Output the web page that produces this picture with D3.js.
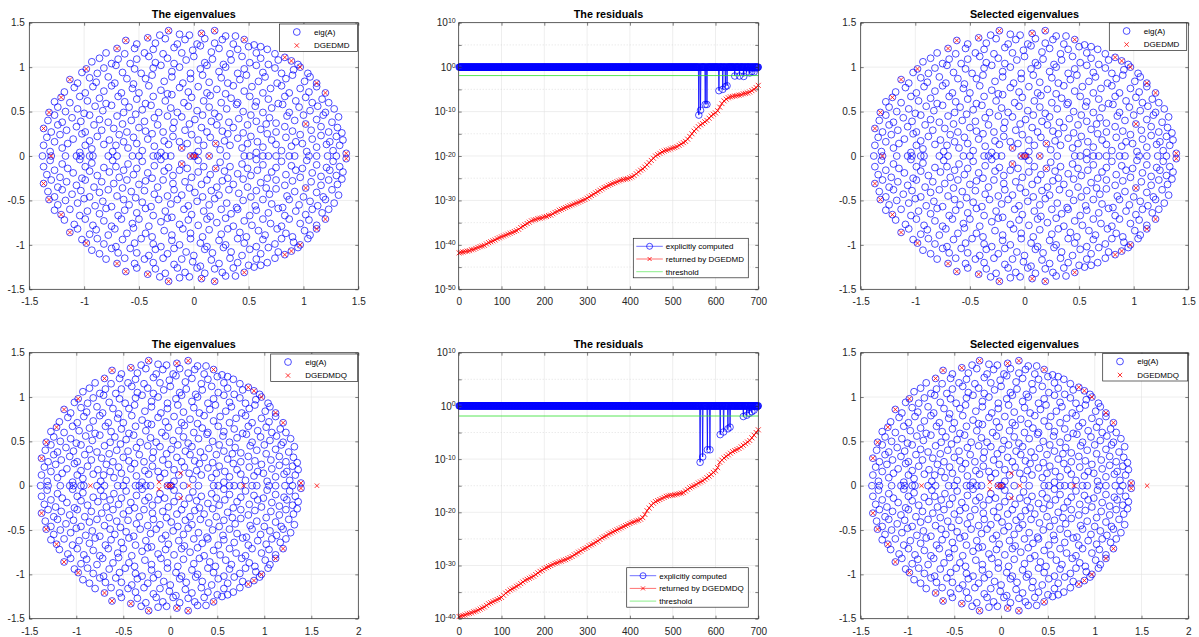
<!DOCTYPE html>
<html>
<head>
<meta charset="utf-8">
<script src="https://cdn.jsdelivr.net/npm/d3@7"></script>
<style>
  body { margin: 0; background: #fff; }
</style>
</head>
<body>
<svg id="fig" width="1199" height="637"></svg>
<script>
// ---- data ----
// real eigenvalues of A (on the real axis)
const eigReal = [-1.38, -1.30, -1.17, -1.07, -1.03, -0.95, -0.92, -0.78, -0.70, -0.56, -0.50, -0.37, -0.33,
  -0.26, -0.21, -0.03, 0.00, 0.01, 0.14, 0.30, 0.46, 0.51, 0.63, 0.68, 0.75, 0.87, 0.92, 1.05, 1.12, 1.22, 1.30];
// complex eigenvalues of A, upper half plane (re, im); the lower half are their conjugates
const eigUpper = [
  [-1.37,0.12],[-1.31,0.05],[-1.20,0.09],[-1.15,0.14],[-1.04,0.04],[-0.99,0.12],[-0.93,0.08],[-0.82,0.13],[-0.74,0.05],[-0.71,0.12],[-0.60,0.09],[-0.52,0.14],[-0.47,0.06],[-0.36,0.11],[-0.30,0.04],[-0.23,0.13],[-0.11,0.09],[-0.06,0.14],[0.04,0.05],[0.09,0.12],[0.20,0.14],[0.24,0.07],[0.33,0.12],[0.44,0.09],[0.49,0.14],[0.57,0.04],[0.63,0.10],[0.75,0.13],[0.80,0.06],[0.89,0.11],[0.99,0.14],[1.03,0.05],[1.12,0.10],[1.21,0.13],[1.27,0.06],[1.33,0.12],[1.39,0.03],
  [-1.34,0.21],[-1.27,0.16],[-1.22,0.24],[-1.10,0.19],[-1.02,0.25],[-0.95,0.17],[-0.88,0.22],[-0.77,0.18],[-0.68,0.24],[-0.64,0.16],[-0.55,0.21],[-0.42,0.19],[-0.38,0.25],[-0.27,0.17],[-0.19,0.22],[-0.13,0.16],[-0.02,0.24],[0.04,0.18],[0.15,0.21],[0.28,0.17],[0.31,0.25],[0.40,0.20],[0.52,0.22],[0.58,0.16],[0.67,0.25],[0.71,0.18],[0.84,0.21],[0.93,0.16],[0.97,0.24],[1.08,0.19],[1.16,0.23],[1.24,0.16],[1.30,0.22],[1.36,0.18],
  [-1.37,0.31],[-1.30,0.27],[-1.24,0.35],[-1.16,0.29],[-1.07,0.33],[-0.99,0.27],[-0.91,0.35],[-0.84,0.29],[-0.73,0.31],[-0.65,0.36],[-0.61,0.27],[-0.50,0.32],[-0.44,0.28],[-0.33,0.35],[-0.28,0.27],[-0.19,0.31],[-0.08,0.29],[-0.04,0.36],[0.07,0.32],[0.12,0.27],[0.21,0.35],[0.26,0.28],[0.36,0.32],[0.45,0.26],[0.49,0.35],[0.61,0.30],[0.66,0.36],[0.75,0.27],[0.83,0.33],[0.90,0.28],[1.02,0.36],[1.07,0.29],[1.16,0.33],[1.23,0.27],[1.31,0.32],[1.35,0.26],
  [-1.33,0.40],[-1.27,0.46],[-1.20,0.38],[-1.11,0.43],[-1.03,0.39],[-0.95,0.46],[-0.86,0.41],[-0.78,0.38],[-0.70,0.45],[-0.57,0.40],[-0.53,0.47],[-0.45,0.39],[-0.36,0.43],[-0.24,0.45],[-0.18,0.38],[-0.11,0.44],[0.01,0.41],[0.08,0.46],[0.16,0.39],[0.23,0.44],[0.32,0.38],[0.41,0.42],[0.52,0.46],[0.57,0.39],[0.69,0.43],[0.75,0.37],[0.85,0.45],[0.92,0.40],[1.00,0.46],[1.12,0.41],[1.18,0.46],[1.26,0.38],[1.32,0.44],
  [-1.32,0.49],[-1.24,0.55],[-1.17,0.50],[-1.06,0.53],[-1.00,0.48],[-0.90,0.56],[-0.83,0.51],[-0.75,0.57],[-0.64,0.49],[-0.59,0.55],[-0.47,0.52],[-0.39,0.57],[-0.32,0.49],[-0.21,0.54],[-0.15,0.49],[-0.05,0.56],[0.03,0.51],[0.14,0.55],[0.19,0.48],[0.30,0.53],[0.39,0.58],[0.45,0.50],[0.56,0.56],[0.63,0.49],[0.71,0.54],[0.81,0.58],[0.87,0.49],[0.96,0.55],[1.06,0.51],[1.13,0.56],[1.20,0.49],[1.28,0.53],
  [-1.27,0.61],[-1.21,0.66],[-1.13,0.60],[-1.04,0.67],[-0.97,0.62],[-0.86,0.65],[-0.80,0.59],[-0.69,0.67],[-0.63,0.61],[-0.52,0.64],[-0.44,0.59],[-0.37,0.67],[-0.26,0.62],[-0.20,0.69],[-0.09,0.60],[-0.02,0.66],[0.09,0.62],[0.15,0.68],[0.25,0.60],[0.34,0.65],[0.40,0.60],[0.51,0.67],[0.57,0.61],[0.68,0.64],[0.77,0.59],[0.83,0.67],[0.93,0.62],[1.02,0.66],[1.08,0.60],[1.17,0.64],[1.23,0.60],
  [-1.18,0.72],[-1.09,0.77],[-0.99,0.71],[-0.92,0.78],[-0.82,0.73],[-0.75,0.79],[-0.66,0.71],[-0.56,0.76],[-0.50,0.71],[-0.41,0.79],[-0.30,0.74],[-0.24,0.70],[-0.13,0.77],[-0.05,0.72],[0.04,0.78],[0.12,0.71],[0.21,0.75],[0.29,0.70],[0.36,0.79],[0.46,0.73],[0.53,0.78],[0.63,0.71],[0.70,0.76],[0.80,0.79],[0.87,0.71],[0.97,0.76],[1.05,0.72],[1.12,0.78],[1.20,0.71],
  [-1.13,0.86],[-1.06,0.82],[-0.95,0.88],[-0.89,0.83],[-0.78,0.89],[-0.72,0.82],[-0.61,0.87],[-0.55,0.81],[-0.44,0.87],[-0.38,0.91],[-0.27,0.84],[-0.20,0.89],[-0.10,0.82],[-0.03,0.87],[0.08,0.91],[0.14,0.83],[0.25,0.88],[0.31,0.82],[0.42,0.86],[0.48,0.91],[0.59,0.84],[0.65,0.89],[0.76,0.82],[0.84,0.87],[0.90,0.91],[1.01,0.84],[1.06,0.89],[1.12,0.82],
  [-1.02,0.94],[-0.98,0.98],[-0.88,0.93],[-0.82,0.99],[-0.71,1.02],[-0.65,0.94],[-0.54,0.98],[-0.48,0.93],[-0.37,0.99],[-0.30,1.02],[-0.20,0.95],[-0.13,1.00],[-0.03,0.93],[0.06,0.98],[0.12,1.02],[0.23,0.95],[0.29,1.00],[0.40,0.93],[0.46,0.98],[0.57,1.02],[0.63,0.94],[0.74,0.99],[0.80,0.93],[0.91,0.97],[0.97,1.00],[1.04,0.93],
  [-0.93,1.06],[-0.86,1.10],[-0.75,1.04],[-0.69,1.09],[-0.58,1.04],[-0.52,1.09],[-0.41,1.12],[-0.35,1.05],[-0.24,1.10],[-0.18,1.04],[-0.07,1.08],[0.00,1.12],[0.10,1.05],[0.17,1.09],[0.27,1.03],[0.34,1.08],[0.44,1.12],[0.51,1.05],[0.61,1.10],[0.68,1.03],[0.77,1.08],[0.83,1.11],[0.89,1.07],[0.95,1.03],
  [-0.80,1.16],[-0.70,1.21],[-0.63,1.15],[-0.54,1.21],[-0.45,1.16],[-0.37,1.20],[-0.28,1.15],[-0.18,1.22],[-0.11,1.16],[-0.01,1.19],[0.06,1.24],[0.16,1.17],[0.23,1.21],[0.33,1.15],[0.40,1.20],[0.50,1.23],[0.57,1.16],[0.67,1.20],[0.74,1.15],
  [-0.62,1.30],[-0.52,1.26],[-0.42,1.33],[-0.35,1.27],[-0.26,1.32],[-0.15,1.26],[-0.08,1.31],[0.03,1.26],[0.10,1.32],[0.19,1.27],[0.26,1.31],[0.36,1.26],[0.46,1.31],[0.55,1.25],[0.61,1.23],
  [-0.31,1.36],[-0.23,1.41],[-0.13,1.37],[-0.04,1.36],[0.07,1.38],[0.19,1.41],[0.29,1.35],[0.38,1.35]
];

// Ritz values returned by DGEDMD / DGEDMDQ (real ones, and upper half plane)
const dgedmdReal = [-1.30, -0.03, 0.00, 0.02, 0.14];
const dgedmdUpper = [[-0.23,1.41],[0.07,1.38],[0.19,1.41],[-0.42,1.33],[-0.62,1.30],[-0.70,1.21],[0.46,1.31],
  [-0.98,0.98],[-1.13,0.86],[-1.21,0.66],[-1.32,0.49],[-1.37,0.31],[0.83,1.11],[0.89,1.07],[0.97,1.00],
  [1.12,0.82],[1.20,0.71],[1.39,0.03],[1.02,0.36],[-0.11,0.09],[0.20,0.14]];
const dgedmdqReal = [-0.85, -0.04, -0.01, 0.01, 0.20, 0.78, 1.56];
const dgedmdqUpper = [[-0.23,1.41],[0.07,1.38],[0.19,1.41],[-0.42,1.33],[-0.62,1.30],[-0.70,1.21],[0.46,1.31],
  [-0.98,0.98],[-1.13,0.86],[-1.21,0.66],[-1.32,0.49],[-1.37,0.31],[0.83,1.11],[0.89,1.07],[0.97,1.00],
  [1.12,0.82],[1.20,0.71],[1.39,0.03],[-0.12,0.04],[0.11,0.14]];

// explicitly computed residuals (log10), indices 1..700
const explicitIndex = d3.range(1, 701);
const explicitTop = [
  0,0,0,0,0,0,0,0,0,0, 0,0,0,0,0,0,0,0,0,0, 0,0,0,0,0,0,0,0,0,0, 0,0,0,0,0,0,0,0,0,0, 0,0,0,0,0,0,0,0,0,0,
  0,0,0,0,0,0,0,0,0,0, 0,0,0,0,0,0,0,0,0,0, 0,0,0,0,0,0,0,0,0,0, 0,0,0,0,0,0,0,0,0,0, 0,0,0,0,0,0,0,0,0,0,
  0,0,0,0,0,0,0,0,0,0, 0,0,0,0,0,0,0,0,0,0, 0,0,0,0,0,0,0,0,0,0, 0,0,0,0,0,0,0,0,0,0, 0,0,0,0,0,0,0,0,0,0,
  0,0,0,0,0,0,0,0,0,0, 0,0,0,0,0,0,0,0,0,0, 0,0,0,0,0,0,0,0,0,0, 0,0,0,0,0,0,0,0,0,0, 0,0,0,0,0,0,0,0,0,0,
  0,0,0,0,0,0,0,0,0,0, 0,0,0,0,0,0,0,0,0,0, 0,0,0,0,0,0,0,0,0,0, 0,0,0,0,0,0,0,0,0,0, 0,0,0,0,0,0,0,0,0,0,
  0,0,0,0,0,0,0,0,0,0, 0,0,0,0,0,0,0,0,0,0, 0,0,0,0,0,0,0,0,0,0, 0,0,0,0,0,0,0,0,0,0, 0,0,0,0,0,0,0,0,0,0,
  0,0,0,0,0,0,0,0,0,0, 0,0,0,0,0,0,0,0,0,0, 0,0,0,0,0,0,0,0,0,0, 0,0,0,0,0,0,0,0,0,0, 0,0,0,0,0,0,0,0,0,0,
  0,0,0,0,0,0,0,0,0,0, 0,0,0,0,0,0,0,0,0,0, 0,0,0,0,0,0,0,0,0,0, 0,0,0,0,0,0,0,0,0,0, 0,0,0,0,0,0,0,0,0,0,
  0,0,0,0,0,0,0,0,0,0, 0,0,0,0,0,0,0,0,0,0, 0,0,0,0,0,0,0,0,0,0, 0,0,0,0,0,0,0,0,0,0, 0,0,0,0,0,0,0,0,0,0,
  0,0,0,0,0,0,0,0,0,0, 0,0,0,0,0,0,0,0,0,0, 0,0,0,0,0,0,0,0,0,0, 0,0,0,0,0,0,0,0,0,0, 0,0,0,0,0,0,0,0,0,0,
  0,0,0,0,0,0,0,0,0,0, 0,0,0,0,0,0,0,0,0,0, 0,0,0,0,0,0,0,0,0,0, 0,0,0,0,0,0,0,0,0,0, 0,0,0,0,0,0,0,0,0,0,
  0,0,0,0,0,0,0,0,0,0,                 // 551-560
  -10.8,0,0,0,-9.7,0,0,0,0,0,           // 561-570
  0,0,0,0,0,-8.4,0,0,0,-8.4,            // 571-580
  0,0,0,0,0,0,0,0,0,0,                  // 581-590
  0,0,0,0,0,0,0,0,0,0,                  // 591-600
  0,0,0,0,0,0,0,-5.3,0,0,               // 601-610
  0,0,0,0,0,0,-5.0,0,0,0,               // 611-620
  0,0,-4.4,0,0,0,-4.2,0,0,0,            // 621-630
  0,0,0,0,0,0,0,0,0,0,                  // 631-640
  0,0,0,0,-2.0,0,0,0,0,0,               // 641-650
  0,0,0,0,0,-2.0,0,0,0,0,               // 651-660
  0,0,0,0,0,-2.1,0,0,0,0,               // 661-670
  0,-1.2,0,0,0,0,0,0,0,-1.3,            // 671-680
  0,0,0,0,-1.0,0,0,0,0,-1.1,            // 681-690
  0,0,0,0,0,0,-0.2,0,0,0                // 691-700
];
const explicitBottom = [
  0,0,0,0,0,0,0,0,0,0, 0,0,0,0,0,0,0,0,0,0, 0,0,0,0,0,0,0,0,0,0, 0,0,0,0,0,0,0,0,0,0, 0,0,0,0,0,0,0,0,0,0,
  0,0,0,0,0,0,0,0,0,0, 0,0,0,0,0,0,0,0,0,0, 0,0,0,0,0,0,0,0,0,0, 0,0,0,0,0,0,0,0,0,0, 0,0,0,0,0,0,0,0,0,0,
  0,0,0,0,0,0,0,0,0,0, 0,0,0,0,0,0,0,0,0,0, 0,0,0,0,0,0,0,0,0,0, 0,0,0,0,0,0,0,0,0,0, 0,0,0,0,0,0,0,0,0,0,
  0,0,0,0,0,0,0,0,0,0, 0,0,0,0,0,0,0,0,0,0, 0,0,0,0,0,0,0,0,0,0, 0,0,0,0,0,0,0,0,0,0, 0,0,0,0,0,0,0,0,0,0,
  0,0,0,0,0,0,0,0,0,0, 0,0,0,0,0,0,0,0,0,0, 0,0,0,0,0,0,0,0,0,0, 0,0,0,0,0,0,0,0,0,0, 0,0,0,0,0,0,0,0,0,0,
  0,0,0,0,0,0,0,0,0,0, 0,0,0,0,0,0,0,0,0,0, 0,0,0,0,0,0,0,0,0,0, 0,0,0,0,0,0,0,0,0,0, 0,0,0,0,0,0,0,0,0,0,
  0,0,0,0,0,0,0,0,0,0, 0,0,0,0,0,0,0,0,0,0, 0,0,0,0,0,0,0,0,0,0, 0,0,0,0,0,0,0,0,0,0, 0,0,0,0,0,0,0,0,0,0,
  0,0,0,0,0,0,0,0,0,0, 0,0,0,0,0,0,0,0,0,0, 0,0,0,0,0,0,0,0,0,0, 0,0,0,0,0,0,0,0,0,0, 0,0,0,0,0,0,0,0,0,0,
  0,0,0,0,0,0,0,0,0,0, 0,0,0,0,0,0,0,0,0,0, 0,0,0,0,0,0,0,0,0,0, 0,0,0,0,0,0,0,0,0,0, 0,0,0,0,0,0,0,0,0,0,
  0,0,0,0,0,0,0,0,0,0, 0,0,0,0,0,0,0,0,0,0, 0,0,0,0,0,0,0,0,0,0, 0,0,0,0,0,0,0,0,0,0, 0,0,0,0,0,0,0,0,0,0,
  0,0,0,0,0,0,0,0,0,0, 0,0,0,0,0,0,0,0,0,0, 0,0,0,0,0,0,0,0,0,0, 0,0,0,0,0,0,0,0,0,0, 0,0,0,0,0,0,0,0,0,0,
  0,0,0,0,0,0,0,0,0,0,                  // 551-560
  0,0,0,-10.6,0,0,0,0,0,-9.6,           // 561-570
  0,0,0,0,0,0,0,0,0,0,                  // 571-580
  -8.25,0,0,0,0,0,-8.25,0,0,0,          // 581-590
  0,0,0,0,0,0,0,0,0,0,                  // 591-600
  0,0,0,0,0,0,0,0,0,0,                  // 601-610
  -5.4,0,0,0,0,0,0,0,-4.9,0,            // 611-620
  0,0,0,0,0,0,0,0,-4.3,0,               // 621-630
  0,0,0,-4.0,0,0,0,0,0,0,               // 631-640
  0,0,0,0,0,0,0,0,0,0,                  // 641-650
  0,0,0,0,0,0,0,0,0,0,                  // 651-660
  0,0,0,0,-2.0,0,0,0,0,0,               // 661-670
  0,0,-1.75,0,0,0,0,0,-1.4,0,           // 671-680
  0,0,0,0,-1.1,0,0,0,0,-0.8,            // 681-690
  0,0,0,0,0,0,-0.2,0,0,0                // 691-700
];

// residuals returned by the routines (log10), read at indices 1, 5, 10, ..., 700
const returnedIndex = [1].concat(d3.range(5, 701, 5));
const returnedTop = [
  -41.8,-41.7,-41.6,-41.5,-41.4,-41.3,-41.1,-41.0,-40.8,-40.6,
  -40.4,-40.25,-40.1,-39.8,-39.5,-39.3,-39.1,-38.9,-38.6,-38.4,
  -38.2,-38.0,-37.8,-37.6,-37.4,-37.2,-37.0,-36.8,-36.5,-36.1,
  -35.8,-35.5,-35.2,-34.9,-34.6,-34.4,-34.3,-34.1,-34.0,-33.9,
  -33.7,-33.6,-33.4,-33.3,-33.0,-32.7,-32.5,-32.2,-32.0,-31.8,
  -31.6,-31.4,-31.2,-31.0,-30.8,-30.6,-30.4,-30.2,-30.0,-29.8,
  -29.5,-29.2,-28.9,-28.6,-28.3,-28.0,-27.7,-27.4,-27.1,-26.9,
  -26.6,-26.4,-26.2,-26.0,-25.8,-25.6,-25.4,-25.3,-25.2,-25.1,
  -24.9,-24.7,-24.4,-24.0,-23.6,-23.2,-22.9,-22.5,-22.0,-21.5,
  -21.0,-20.5,-20.0,-19.7,-19.4,-19.1,-18.9,-18.7,-18.6,-18.4,
  -18.2,-18.1,-17.9,-17.6,-17.3,-17.0,-16.7,-16.2,-15.6,-15.0,
  -14.4,-13.9,-13.4,-13.0,-12.7,-12.3,-12.0,-11.5,-11.0,-10.6,
  -10.3,-9.8,-9.0,-8.2,-7.6,-7.2,-6.9,-6.7,-6.6,-6.5,
  -6.4,-6.3,-6.2,-6.0,-5.9,-5.8,-5.6,-5.3,-5.0,-4.6,
  -4.1
];
const returnedBottom = [
  -39.6,-39.5,-39.4,-39.3,-39.1,-39.0,-38.9,-38.7,-38.6,-38.4,
  -38.2,-38.0,-37.8,-37.5,-37.2,-37.0,-36.8,-36.6,-36.4,-36.2,
  -36.0,-35.6,-35.2,-34.9,-34.6,-34.4,-34.2,-33.9,-33.7,-33.4,
  -33.1,-32.8,-32.6,-32.4,-32.2,-32.0,-31.7,-31.4,-31.1,-30.9,
  -30.6,-30.4,-30.2,-30.0,-29.8,-29.6,-29.5,-29.3,-29.2,-29.0,
  -28.9,-28.7,-28.5,-28.3,-28.0,-27.8,-27.5,-27.3,-27.0,-26.8,
  -26.6,-26.3,-26.1,-25.9,-25.6,-25.4,-25.1,-24.8,-24.6,-24.4,
  -24.1,-23.9,-23.7,-23.5,-23.3,-23.1,-22.9,-22.7,-22.5,-22.3,
  -22.1,-21.9,-21.8,-21.6,-21.5,-21.3,-21.0,-20.4,-19.7,-19.2,
  -18.7,-18.3,-18.0,-17.8,-17.6,-17.4,-17.2,-17.0,-16.9,-16.8,
  -16.8,-16.7,-16.6,-16.5,-16.4,-16.3,-16.0,-15.7,-15.4,-15.2,
  -15.0,-14.8,-14.5,-14.3,-14.1,-13.8,-13.5,-13.2,-12.9,-12.5,
  -12.2,-11.6,-10.6,-10.2,-9.8,-9.5,-9.2,-8.9,-8.6,-8.4,
  -8.2,-8.0,-7.7,-7.4,-7.1,-6.8,-6.5,-6.0,-5.5,-5.0,
  -4.5
];
const thresholdLog = -1.9;

// ticks
const eigTicks = [-1.5, -1, -0.5, 0, 0.5, 1, 1.5];
const eigTicksWide = [-1.5, -1, -0.5, 0, 0.5, 1, 1.5, 2];
const resTicksX = [0, 100, 200, 300, 400, 500, 600, 700];
const resExpTop = [10, 5, 0, -5, -10, -15, -20, -25, -30, -35, -40, -45, -50];
const resExpBottom = [10, 5, 0, -5, -10, -15, -20, -25, -30, -35, -40];

// ---- drawing ----
const svg = d3.select("#fig");
const AX = "#262626", GRID = "#e3e3e3";
const FONT = "'Liberation Sans', Arial, Helvetica, sans-serif";
const BLUE = "#0000ff", RED = "#ff0000", GREEN = "#2fe02f";

svg.append("rect").attr("width", 1199).attr("height", 637).attr("fill", "#fff");

const xPath = s => `M${-s},${-s}L${s},${s}M${-s},${s}L${s},${-s}`;

function withConjugates(real, upper) {
  // complex eigenvalues of a real matrix come in conjugate pairs
  return real.map(r => [r, 0]).concat(upper, upper.map(([re, im]) => [re, -im]));
}

function styleAxis(sel) {
  sel.select(".domain").remove();
  sel.selectAll(".tick line").attr("stroke", AX).attr("stroke-width", 0.6);
  sel.selectAll(".tick text").attr("fill", AX).attr("font-size", 10).attr("font-family", FONT);
}

function frame(g, box, x, y, xTicks, yTicks, yFormat, yPad) {
  g.append("g").attr("transform", `translate(0,${box.y1})`)
    .call(d3.axisBottom(x).tickValues(xTicks).tickFormat(d => String(d))
      .tickSizeInner(-3).tickSizeOuter(0).tickPadding(9)).call(styleAxis);
  g.append("g").attr("transform", `translate(0,${box.y0})`)
    .call(d3.axisTop(x).tickValues(xTicks).tickFormat(() => "")
      .tickSizeInner(-3).tickSizeOuter(0)).call(styleAxis);
  const left = g.append("g").attr("transform", `translate(${box.x0},0)`)
    .call(d3.axisLeft(y).tickValues(yTicks).tickFormat(yFormat)
      .tickSizeInner(-3).tickSizeOuter(0).tickPadding(yPad)).call(styleAxis);
  g.append("g").attr("transform", `translate(${box.x1},0)`)
    .call(d3.axisRight(y).tickValues(yTicks).tickFormat(() => "")
      .tickSizeInner(-3).tickSizeOuter(0)).call(styleAxis);
  g.append("rect").attr("x", box.x0).attr("y", box.y0)
    .attr("width", box.x1 - box.x0).attr("height", box.y1 - box.y0)
    .attr("fill", "none").attr("stroke", AX).attr("stroke-width", 0.7);
  return left;
}

function title(g, box, text) {
  g.append("text").attr("x", (box.x0 + box.x1) / 2).attr("y", box.y0 - 4.5)
    .attr("text-anchor", "middle").attr("font-family", FONT).attr("font-weight", "bold")
    .attr("font-size", 10.8).attr("fill", "#000").text(text);
}

function eigPanel(box, xTicks, selReal, selUpper, selName, titleText, leg) {
  const x = d3.scaleLinear().domain(d3.extent(xTicks)).range([box.x0, box.x1]);
  const y = d3.scaleLinear().domain([-1.5, 1.5]).range([box.y1, box.y0]);
  const g = svg.append("g");

  const grid = g.append("g").attr("stroke", GRID).attr("stroke-width", 0.6);
  grid.selectAll(".gx").data(xTicks).join("line").attr("class", "gx")
    .attr("x1", d => x(d)).attr("x2", d => x(d)).attr("y1", box.y0).attr("y2", box.y1);
  grid.selectAll(".gy").data(eigTicks).join("line").attr("class", "gy")
    .attr("y1", d => y(d)).attr("y2", d => y(d)).attr("x1", box.x0).attr("x2", box.x1);

  g.append("g").selectAll("circle").data(withConjugates(eigReal, eigUpper)).join("circle")
    .attr("cx", d => x(d[0])).attr("cy", d => y(d[1])).attr("r", 3.4)
    .attr("fill", "none").attr("stroke", BLUE).attr("stroke-width", 0.7);

  g.append("g").selectAll("path").data(withConjugates(selReal, selUpper)).join("path")
    .attr("transform", d => `translate(${x(d[0])},${y(d[1])})`).attr("d", xPath(2.2))
    .attr("stroke", RED).attr("stroke-width", 0.8).attr("fill", "none");

  frame(g, box, x, y, xTicks, eigTicks, d => String(d), 4.5);
  title(g, box, titleText);

  // legend
  const lg = g.append("g");
  lg.append("rect").attr("x", leg.x).attr("y", leg.y).attr("width", leg.w).attr("height", 27.5)
    .attr("fill", "#fff").attr("stroke", AX).attr("stroke-width", 0.7);
  lg.append("circle").attr("cx", leg.x + 17.3).attr("cy", leg.y + 8).attr("r", 3.4)
    .attr("fill", "none").attr("stroke", BLUE).attr("stroke-width", 0.7);
  lg.append("path").attr("transform", `translate(${leg.x + 17.3},${leg.y + 21.5})`).attr("d", xPath(2.2))
    .attr("stroke", RED).attr("stroke-width", 0.8);
  [["eig(A)", 8], [selName, 21.5]].forEach(([t, dy]) => {
    lg.append("text").attr("x", leg.x + 34.5).attr("y", leg.y + dy + 2.9)
      .attr("font-family", FONT).attr("font-size", 8).attr("fill", "#000").text(t);
  });
}

function resPanel(box, exps, explicit, returned, retName, leg) {
  const x = d3.scaleLinear().domain([0, 700]).range([box.x0, box.x1]);
  const y = d3.scaleLog().domain([10 ** d3.min(exps), 10 ** d3.max(exps)]).range([box.y1, box.y0]);
  const yTicks = exps.map(e => 10 ** e);
  const g = svg.append("g");

  const grid = g.append("g").attr("stroke-width", 0.6);
  grid.selectAll(".gx").data(resTicksX).join("line").attr("class", "gx").attr("stroke", GRID)
    .attr("x1", d => x(d)).attr("x2", d => x(d)).attr("y1", box.y0).attr("y2", box.y1);
  grid.selectAll(".gy").data(exps).join("line").attr("class", "gy")
    .attr("stroke", d => d % 10 === 0 ? GRID : "#cfcfcf")
    .attr("stroke-dasharray", d => d % 10 === 0 ? null : "1,2")
    .attr("y1", d => y(10 ** d)).attr("y2", d => y(10 ** d)).attr("x1", box.x0).attr("x2", box.x1);

  // explicitly computed
  const lineE = d3.line().x((d, i) => x(explicitIndex[i])).y(d => y(10 ** d));
  g.append("path").attr("d", lineE(explicit)).attr("fill", "none").attr("stroke", BLUE).attr("stroke-width", 0.8);
  g.append("g").selectAll("circle").data(explicit).join("circle")
    .attr("cx", (d, i) => x(explicitIndex[i])).attr("cy", d => y(10 ** d)).attr("r", 3.3)
    .attr("fill", "none").attr("stroke", BLUE).attr("stroke-width", 0.7);

  // returned by the routine
  const lineR = d3.line().x((d, i) => x(returnedIndex[i])).y(d => y(10 ** d));
  g.append("path").attr("d", lineR(returned)).attr("fill", "none").attr("stroke", RED).attr("stroke-width", 0.8);
  g.append("g").selectAll("path").data(returned).join("path")
    .attr("transform", (d, i) => `translate(${x(returnedIndex[i])},${y(10 ** d)})`).attr("d", xPath(2.5))
    .attr("stroke", RED).attr("stroke-width", 0.8);

  // threshold
  g.append("line").attr("x1", x(1)).attr("x2", x(700))
    .attr("y1", y(10 ** thresholdLog)).attr("y2", y(10 ** thresholdLog))
    .attr("stroke", GREEN).attr("stroke-width", 0.8);

  const left = frame(g, box, x, y, resTicksX, yTicks, () => "", 3);
  left.selectAll(".tick text").each(function (d) {
    const e = Math.round(Math.log10(d));
    const t = d3.select(this).text(null);
    if (e % 10 !== 0) return;
    t.append("tspan").text("10");
    t.append("tspan").attr("dy", "-0.45em").attr("font-size", 7).text(String(e));
  });
  title(g, box, "The residuals");

  // legend
  const lg = g.append("g");
  lg.append("rect").attr("x", leg.x).attr("y", leg.y).attr("width", leg.w).attr("height", 39.5)
    .attr("fill", "#fff").attr("stroke", AX).attr("stroke-width", 0.7);
  const rows = [["explicitly computed", BLUE], [retName, RED], ["threshold", GREEN]];
  rows.forEach(([t, c], i) => {
    const cy = leg.y + 8 + i * 12.7;
    lg.append("line").attr("x1", leg.x + 3).attr("x2", leg.x + 29.5).attr("y1", cy).attr("y2", cy)
      .attr("stroke", c).attr("stroke-width", 0.8).attr("stroke-opacity", 0.7);
    if (i === 0) lg.append("circle").attr("cx", leg.x + 16.3).attr("cy", cy).attr("r", 3)
      .attr("fill", "none").attr("stroke", c).attr("stroke-width", 0.7);
    if (i === 1) lg.append("path").attr("transform", `translate(${leg.x + 16.3},${cy})`).attr("d", xPath(2))
      .attr("stroke", c).attr("stroke-width", 0.8);
    lg.append("text").attr("x", leg.x + 32.5).attr("y", cy + 2.9)
      .attr("font-family", FONT).attr("font-size", 8).attr("fill", "#000").text(t);
  });
}

const TOP = { y0: 22.7, y1: 289.3 }, BOT = { y0: 352.7, y1: 618.7 };
const COL = [{ x0: 29.3, x1: 358.3 }, { x0: 458.7, x1: 758.3 }, { x0: 860.7, x1: 1188.3 }];

eigPanel({ ...COL[0], ...TOP }, eigTicks, dgedmdReal, dgedmdUpper, "DGEDMD", "The eigenvalues",
  { x: 279.5, y: 24, w: 78 });
resPanel({ ...COL[1], ...TOP }, resExpTop, explicitTop, returnedTop, "returned by DGEDMD",
  { x: 633.3, y: 238.3, w: 115 });
eigPanel({ ...COL[2], ...TOP }, eigTicks, dgedmdReal, dgedmdUpper, "DGEDMD", "Selected eigenvalues",
  { x: 1109.3, y: 23, w: 77.4 });

eigPanel({ ...COL[0], ...BOT }, eigTicksWide, dgedmdqReal, dgedmdqUpper, "DGEDMDQ", "The eigenvalues",
  { x: 270.7, y: 354, w: 87 });
resPanel({ ...COL[1], ...BOT }, resExpBottom, explicitBottom, returnedBottom, "returned by DGEDMDQ",
  { x: 626.7, y: 567.7, w: 121.6 });
eigPanel({ ...COL[2], ...BOT }, eigTicksWide, dgedmdqReal, dgedmdqUpper, "DGEDMDQ", "Selected eigenvalues",
  { x: 1102.7, y: 353.5, w: 85 });
</script>
</body>
</html>
